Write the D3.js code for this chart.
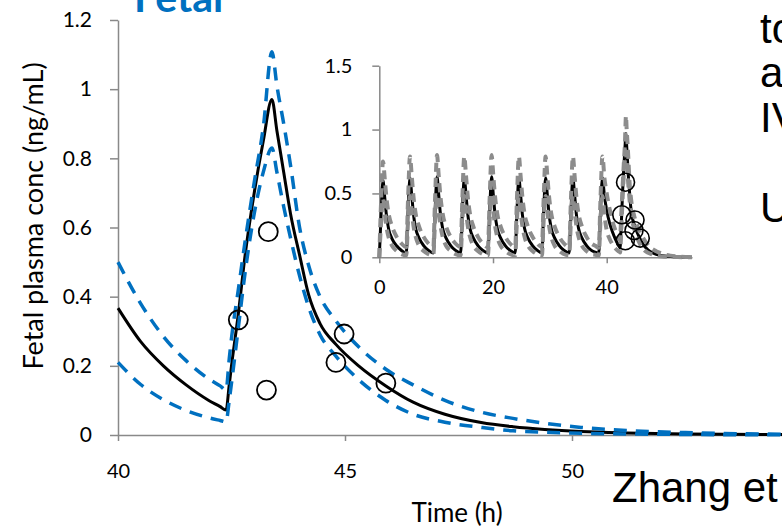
<!DOCTYPE html>
<html>
<head>
<meta charset="utf-8">
<script src="https://cdn.jsdelivr.net/npm/d3@7"></script>
<style>
  body { margin: 0; background: #fff; }
  svg { display: block; }
</style>
</head>
<body>
<div id="chart"></div>
<script>
const width = 782;
const height = 529;

// main panel: simulated fetal plasma conc around the last dose (hours 40-55)
const mainTime  = [40, 40.5, 41, 41.5, 42, 42.25, 42.38, 42.45, 42.5, 42.65, 42.8, 43.0, 43.2, 43.39, 43.5, 43.65, 43.8, 44.0, 44.2, 44.45, 44.8, 45.3, 45.9, 46.5, 47.2, 48.0, 48.7, 49.4, 50.2, 51.2, 52.5, 55];
const mainMean  = [0.367, 0.27, 0.2, 0.145, 0.1, 0.082, 0.072, 0.145, 0.2, 0.35, 0.52, 0.70, 0.85, 0.97, 0.88, 0.76, 0.64, 0.52, 0.405, 0.322, 0.262, 0.2, 0.142, 0.095, 0.06, 0.036, 0.024, 0.016, 0.01, 0.006, 0.003, 0.001];
const mainUpper = [0.50, 0.38, 0.285, 0.215, 0.162, 0.142, 0.13, 0.22, 0.28, 0.42, 0.56, 0.73, 0.89, 1.108, 1.01, 0.9, 0.78, 0.6, 0.49, 0.40, 0.33, 0.255, 0.19, 0.145, 0.10, 0.066, 0.048, 0.034, 0.022, 0.013, 0.007, 0.002];
const mainLower = [0.21, 0.146, 0.102, 0.071, 0.05, 0.042, 0.038, 0.1, 0.15, 0.31, 0.47, 0.64, 0.76, 0.83, 0.76, 0.66, 0.57, 0.46, 0.37, 0.29, 0.228, 0.16, 0.10, 0.06, 0.037, 0.022, 0.012, 0.008, 0.005, 0.003, 0.0015, 0.0004];

// observed data
const obsTime = [42.65, 43.31, 43.27, 44.98, 44.8, 45.9];
const obsConc = [0.333, 0.588, 0.13, 0.292, 0.21, 0.15];

// inset: whole dosing course 0-40 h (continues with the main arrays after 40 h)
const insetTime = [
  0, 0.3, 0.65, 0.95, 1.25, 1.65, 2.25, 3.05, 3.85,
  4.75, 5.05, 5.4, 5.7, 6.0, 6.4, 7.0, 7.8, 8.6,
  9.5, 9.8, 10.15, 10.45, 10.75, 11.15, 11.75, 12.55, 13.35,
  14.3, 14.6, 14.95, 15.25, 15.55, 15.95, 16.55, 17.35, 18.15,
  19.1, 19.4, 19.75, 20.05, 20.35, 20.75, 21.35, 22.15, 22.95,
  23.9, 24.2, 24.55, 24.85, 25.15, 25.55, 26.15, 26.95, 27.75,
  28.6, 28.9, 29.25, 29.55, 29.85, 30.25, 30.85, 31.65, 32.45,
  33.4, 33.7, 34.05, 34.35, 34.65, 35.05, 35.65, 36.45, 37.25, 38.0,
  38.6, 38.9, 39.25, 39.6
];
const insetMean = [
  0, 0.32, 0.60, 0.47, 0.33, 0.22, 0.145, 0.09, 0.055,
  0.034, 0.35, 0.62, 0.49, 0.34, 0.225, 0.15, 0.092, 0.056,
  0.034, 0.35, 0.63, 0.49, 0.34, 0.225, 0.15, 0.092, 0.056,
  0.034, 0.35, 0.62, 0.49, 0.34, 0.225, 0.15, 0.092, 0.056,
  0.034, 0.35, 0.63, 0.49, 0.34, 0.225, 0.15, 0.092, 0.056,
  0.034, 0.35, 0.62, 0.49, 0.34, 0.225, 0.15, 0.092, 0.056,
  0.034, 0.35, 0.62, 0.49, 0.34, 0.225, 0.15, 0.092, 0.056,
  0.034, 0.35, 0.62, 0.49, 0.34, 0.225, 0.15, 0.092, 0.056, 0.04,
  0.03, 0.35, 0.62, 0.48
];
const insetUpper = [
  0, 0.42, 0.75, 0.62, 0.47, 0.34, 0.24, 0.16, 0.11,
  0.08, 0.45, 0.79, 0.64, 0.48, 0.34, 0.24, 0.16, 0.11,
  0.08, 0.45, 0.80, 0.64, 0.48, 0.34, 0.24, 0.16, 0.11,
  0.08, 0.45, 0.79, 0.64, 0.48, 0.34, 0.24, 0.16, 0.11,
  0.08, 0.45, 0.80, 0.64, 0.48, 0.34, 0.24, 0.16, 0.11,
  0.08, 0.45, 0.79, 0.64, 0.48, 0.34, 0.24, 0.16, 0.11,
  0.08, 0.45, 0.79, 0.64, 0.48, 0.34, 0.24, 0.16, 0.11,
  0.08, 0.45, 0.79, 0.64, 0.48, 0.34, 0.24, 0.16, 0.11, 0.09,
  0.075, 0.45, 0.79, 0.62
];
const insetLower = [
  0, 0.26, 0.46, 0.35, 0.24, 0.155, 0.09, 0.05, 0.026,
  0.015, 0.28, 0.48, 0.36, 0.25, 0.16, 0.09, 0.05, 0.026,
  0.015, 0.28, 0.48, 0.36, 0.25, 0.16, 0.09, 0.05, 0.026,
  0.015, 0.28, 0.48, 0.36, 0.25, 0.16, 0.09, 0.05, 0.026,
  0.015, 0.28, 0.48, 0.36, 0.25, 0.16, 0.09, 0.05, 0.026,
  0.015, 0.28, 0.48, 0.36, 0.25, 0.16, 0.09, 0.05, 0.026,
  0.015, 0.28, 0.48, 0.36, 0.25, 0.16, 0.09, 0.05, 0.026,
  0.015, 0.28, 0.48, 0.36, 0.25, 0.16, 0.09, 0.05, 0.026, 0.02,
  0.013, 0.28, 0.48, 0.33
];

const mainYTicks = [0, 0.2, 0.4, 0.6, 0.8, 1, 1.2];
const mainXTicks = [40, 45, 50, 55];
const insetYTicks = [0, 0.5, 1, 1.5];
const insetXTicks = [0, 20, 40];

const sideText = [
  { t: "to", y: 43 },
  { t: "a", y: 87 },
  { t: "IV", y: 132 },
  { t: "U", y: 222 }
];

const axisColor = '#898989';
const blue = '#0070C0';
const chartFont = 'Lato, "Open Sans", sans-serif';
const slideFont = '"Liberation Sans", Arial, sans-serif';

const toPts = (ts, vs) => ts.map((t, i) => ({ t: t, v: vs[i] }));

function styleAxis(g, fontSize) {
  g.select('.domain').attr('stroke', axisColor).attr('stroke-width', 1.5);
  g.selectAll('.tick line').attr('stroke', axisColor).attr('stroke-width', 1.5);
  g.selectAll('.tick text')
    .attr('fill', '#000')
    .style('font-family', chartFont)
    .style('font-size', fontSize + 'px');
}

function drawChart() {
  const svg = d3.select('#chart')
    .append('svg')
    .attr('width', width)
    .attr('height', height)
    .attr('viewBox', `0 0 ${width} ${height}`);

  svg.append('rect').attr('width', width).attr('height', height).attr('fill', '#fff');

  // ---------- main panel ----------
  const x = d3.scaleLinear().domain([40, 55]).range([118, 799]);
  const y = d3.scaleLinear().domain([0, 1.2]).range([435, 20]);

  const yAxis = d3.axisLeft(y)
    .tickValues(mainYTicks)
    .tickSize(8).tickSizeOuter(0).tickPadding(18)
    .tickFormat(d => String(d));
  svg.append('g')
    .attr('transform', `translate(${x(40)},0)`)
    .call(yAxis)
    .call(g => styleAxis(g, 21));

  const xAxis = d3.axisBottom(x)
    .tickValues(mainXTicks)
    .tickSize(6).tickSizeOuter(0).tickPadding(23)
    .tickFormat(d => String(d));
  svg.append('g')
    .attr('transform', `translate(0,${y(0)})`)
    .call(xAxis)
    .call(g => styleAxis(g, 20));

  const line = d3.line()
    .x(d => x(d.t))
    .y(d => y(d.v))
    .curve(d3.curveMonotoneX);

  svg.append('path')
    .datum(toPts(mainTime, mainMean))
    .attr('d', line)
    .attr('fill', 'none')
    .attr('stroke', '#000')
    .attr('stroke-width', 3);

  [mainUpper, mainLower].forEach(vals => {
    svg.append('path')
      .datum(toPts(mainTime, vals))
      .attr('d', line)
      .attr('fill', 'none')
      .attr('stroke', blue)
      .attr('stroke-width', 3.5)
      .attr('stroke-dasharray', '13,9');
  });

  svg.append('g')
    .selectAll('circle')
    .data(toPts(obsTime, obsConc))
    .join('circle')
    .attr('cx', d => x(d.t))
    .attr('cy', d => y(d.v))
    .attr('r', 9.5)
    .attr('fill', 'none')
    .attr('stroke', '#000')
    .attr('stroke-width', 1.8);

  svg.append('text')
    .attr('transform', 'translate(43,216) rotate(-90)')
    .attr('text-anchor', 'middle')
    .style('font-family', chartFont)
    .style('font-size', '27px')
    .text('Fetal plasma conc (ng/mL)');

  svg.append('text')
    .attr('x', 457)
    .attr('y', 522)
    .attr('text-anchor', 'middle')
    .style('font-family', chartFont)
    .style('font-size', '26px')
    .text('Time (h)');

  // title, cut off at the top of the slide
  svg.append('text')
    .attr('x', 134)
    .attr('y', 12)
    .attr('fill', blue)
    .style('font-family', chartFont)
    .style('font-weight', 'bold')
    .style('font-size', '41px')
    .text('Fetal');

  // ---------- inset ----------
  const xi = d3.scaleLinear().domain([0, 55]).range([379.3, 692]);
  const yi = d3.scaleLinear().domain([0, 1.5]).range([257.3, 65.7]);

  svg.append('g')
    .attr('transform', `translate(${xi(0)},0)`)
    .call(d3.axisLeft(yi).tickValues(insetYTicks).tickSize(7).tickSizeOuter(0).tickPadding(20).tickFormat(d => String(d)))
    .call(g => styleAxis(g, 20));

  svg.append('g')
    .attr('transform', `translate(0,${yi(0)})`)
    .call(d3.axisBottom(xi).tickValues(insetXTicks).tickSize(6).tickSizeOuter(0).tickPadding(16.5).tickFormat(d => String(d)))
    .call(g => styleAxis(g, 20));

  const lineI = d3.line()
    .x(d => xi(d.t))
    .y(d => yi(d.v))
    .curve(d3.curveMonotoneX);

  const allTime = insetTime.concat(mainTime);

  svg.append('path')
    .datum(toPts(allTime, insetMean.concat(mainMean)))
    .attr('d', lineI)
    .attr('fill', 'none')
    .attr('stroke', '#000')
    .attr('stroke-width', 3);

  [insetUpper.concat(mainUpper), insetLower.concat(mainLower)].forEach(vals => {
    svg.append('path')
      .datum(toPts(allTime, vals))
      .attr('d', lineI)
      .attr('fill', 'none')
      .attr('stroke', '#8c8c8c')
      .attr('stroke-width', 4)
      .attr('stroke-dasharray', '9,6');
  });

  svg.append('g')
    .selectAll('circle')
    .data(toPts(obsTime, obsConc))
    .join('circle')
    .attr('cx', d => xi(d.t))
    .attr('cy', d => yi(d.v))
    .attr('r', 9)
    .attr('fill', 'none')
    .attr('stroke', '#000')
    .attr('stroke-width', 1.6);

  // ---------- slide text around the chart ----------
  svg.append('g')
    .selectAll('text')
    .data(sideText)
    .join('text')
    .attr('x', 760)
    .attr('y', d => d.y)
    .style('font-family', slideFont)
    .style('font-size', '42px')
    .text(d => d.t);

  svg.append('text')
    .attr('x', 612)
    .attr('y', 502)
    .style('font-family', slideFont)
    .style('font-size', '42px')
    .text('Zhang et');
}

drawChart();
</script>
</body>
</html>
